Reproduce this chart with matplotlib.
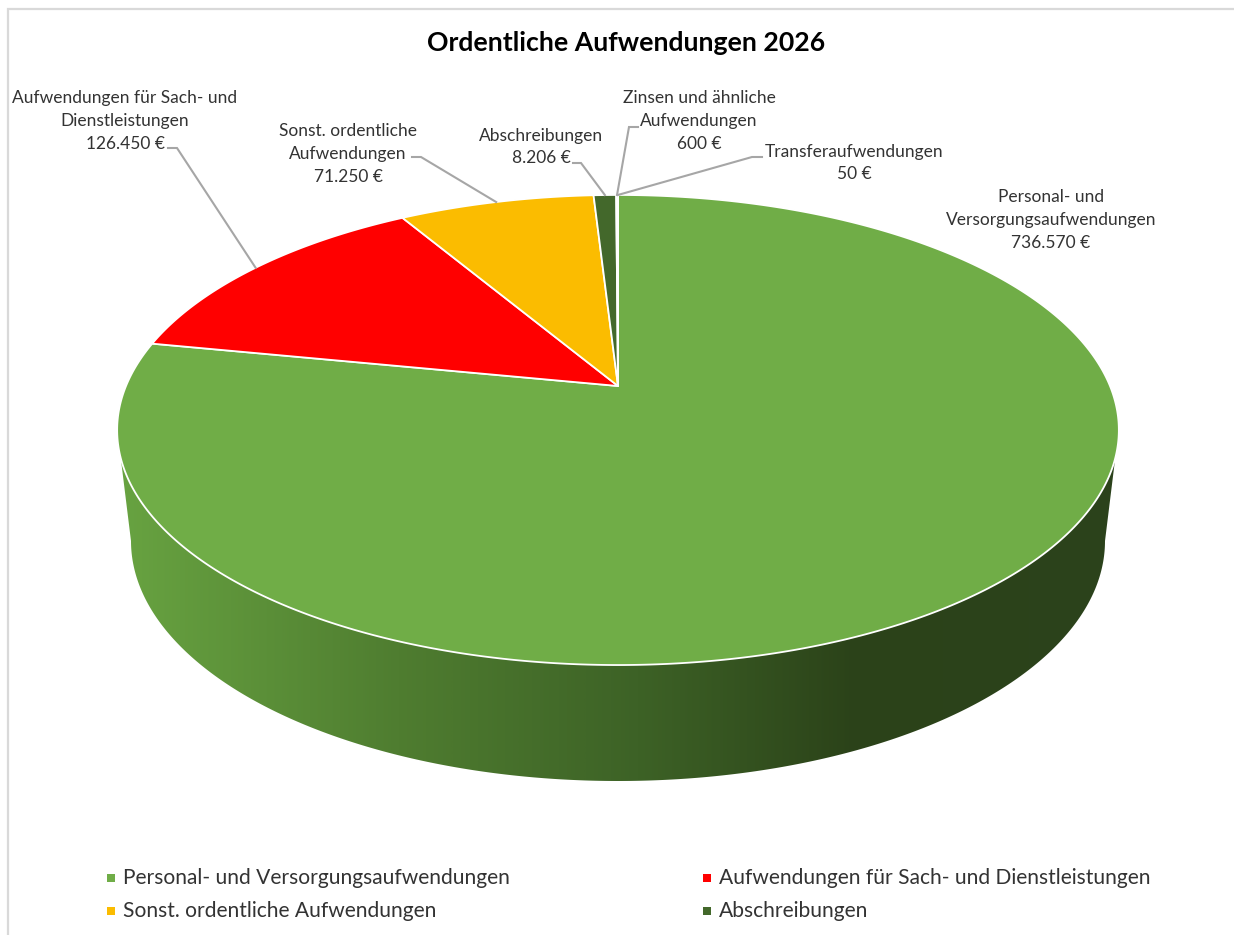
import numpy as np
import matplotlib
matplotlib.use('Agg')
import matplotlib.pyplot as plt
from matplotlib.colors import LinearSegmentedColormap
from matplotlib.patches import Polygon

plt.rcParams['font.family'] = ['Lato', 'DejaVu Sans']

# --- Data ---
TITLE = 'Ordentliche Aufwendungen 2026'
values = [736570, 126450, 71250, 8206, 600, 50]
labels = ['Personal- und\nVersorgungsaufwendungen',
          'Aufwendungen für Sach- und\nDienstleistungen',
          'Sonst. ordentliche\nAufwendungen',
          'Abschreibungen',
          'Zinsen und ähnliche\nAufwendungen',
          'Transferaufwendungen']
legend_names = ['Personal- und Versorgungsaufwendungen',
                'Aufwendungen für Sach- und Dienstleistungen',
                'Sonst. ordentliche Aufwendungen',
                'Abschreibungen']
colors = ['#70AD47', '#FF0000', '#FBBC00', '#43682B', '#E3E8DF', '#E3E8DF']

# --- Layout (pixels of the 1234x935 picture) ---
label_pos = [(1051, 220), (125, 121), (348, 154), (541, 147), (699, 121), (854, 163)]
# leader: text end, elbow; the last point comes from the slice
leaders = [None, [(168, 148), (177, 148)], [(412, 157), (421, 157)], [(573, 163), (581, 163)],
           [(638, 127), (629, 127)], [(762, 157), (752, 157)]]
legend_pos = [(107, 878), (703, 878), (107, 911), (703, 911)]

# top face: circle seen in perspective
CX, CY = 618, 386
A, B, K = 492, 226.8, 0.1872
# bottom face
BOT_CY, BOT_RX, BOT_RY = 541, 487, 240
SIDE_START = np.radians(107.5)


def rim(theta):
    """Point on the top rim, theta clockwise from the back of the pie."""
    u, v = np.sin(theta), np.cos(theta)
    w = 1 + K * v
    return CX + A * u / w, CY - B * v / w


fig = plt.figure(figsize=(12.34, 9.35), dpi=100)
ax = fig.add_axes([0, 0, 1, 1])

# side wall with left to right shading
t = np.linspace(SIDE_START, 2 * np.pi - SIDE_START, 300)
tx, ty = rim(t)
b = np.linspace(3 * np.pi / 2, np.pi / 2, 300)
bx = CX + BOT_RX * np.sin(b)
by = BOT_CY - BOT_RY * np.cos(b)
side = Polygon(np.column_stack([np.r_[tx, bx], np.r_[ty, by]]), closed=True,
               facecolor='none', edgecolor='none')
ax.add_patch(side)
shade = LinearSegmentedColormap.from_list('side', [
    (0.0, '#68A341'), (0.28, '#4F7D30'), (0.52, '#3D6226'), (0.74, '#2B4219'), (1.0, '#2C431C')])
img = ax.imshow(np.linspace(0, 1, 512)[None, :], cmap=shade, aspect='auto',
                extent=(118, 1118, 790, 440), interpolation='bilinear')
img.set_clip_path(side)

# top face slices
total = sum(values)
edges = np.r_[0, np.cumsum(values)] / total * 2 * np.pi
for i, v in enumerate(values):
    a = np.linspace(edges[i], edges[i + 1], max(int(v / total * 720), 2))
    x, y = rim(a)
    ax.add_patch(Polygon(np.column_stack([np.r_[CX, x], np.r_[CY, y]]), closed=True,
                         facecolor=colors[i], edgecolor='white', linewidth=1.3, joinstyle='round'))

# leaders and labels
for i, v in enumerate(values):
    text = labels[i] + '\n' + f'{v:,}'.replace(',', '.') + ' €'
    ax.text(label_pos[i][0], label_pos[i][1], text, ha='center', va='center', fontsize=12.5,
            color='#333333', linespacing=1.53)
    if leaders[i] is not None:
        mx, my = rim((edges[i] + edges[i + 1]) / 2)
        px = [p[0] for p in leaders[i]] + [mx]
        py = [p[1] for p in leaders[i]] + [my]
        ax.plot(px, py, color='#A6A6A6', linewidth=1.5, solid_joinstyle='miter')

ax.text(626, 43, TITLE, ha='center', va='center', fontsize=19.2, fontweight='bold', color='black')

# legend
for i, name in enumerate(legend_names):
    lx, ly = legend_pos[i]
    ax.fill([lx, lx + 8, lx + 8, lx], [ly - 4, ly - 4, ly + 4, ly + 4], color=colors[i], linewidth=0)
    ax.text(lx + 16, ly, name, ha='left', va='center', fontsize=15.1, color='#333333')

# chart frame: only the top and left edges show in the picture
ax.plot([1234, 8, 8], [9, 9, 935], color='#D9D9D9', linewidth=1.6, solid_joinstyle='miter')

ax.set_xlim(0, 1234)
ax.set_ylim(935, 0)
ax.axis('off')
fig.savefig('out.png', dpi=100, facecolor='white')
